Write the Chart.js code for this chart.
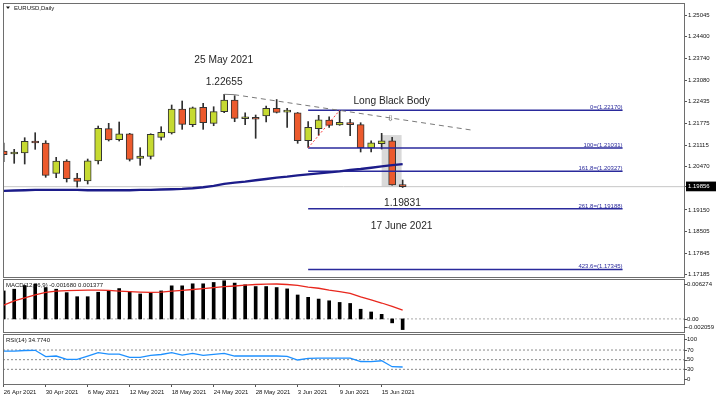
<!DOCTYPE html>
<html><head><meta charset="utf-8">
<script src="https://cdn.jsdelivr.net/npm/chart.js@4.4.0/dist/chart.umd.min.js"></script>
<style>
html,body{margin:0;padding:0;background:#fff;}
#wrap{position:relative;width:716px;height:397px;overflow:hidden;background:#fff;}
#wrap canvas{position:absolute;left:0;top:0;}
</style></head><body>
<div id="wrap">
<canvas id="main" width="716" height="397"></canvas>
<canvas id="macd" width="716" height="397"></canvas>
<canvas id="rsi" width="716" height="397"></canvas>
</div>
<script>
// ---------- data ----------
const dates = ['26 Apr 2021','27 Apr 2021','28 Apr 2021','29 Apr 2021','30 Apr 2021','3 May 2021','4 May 2021','5 May 2021','6 May 2021','7 May 2021','10 May 2021','11 May 2021','12 May 2021','13 May 2021','14 May 2021','17 May 2021','18 May 2021','19 May 2021','20 May 2021','21 May 2021','24 May 2021','25 May 2021','26 May 2021','27 May 2021','28 May 2021','31 May 2021','1 Jun 2021','2 Jun 2021','3 Jun 2021','4 Jun 2021','7 Jun 2021','8 Jun 2021','9 Jun 2021','10 Jun 2021','11 Jun 2021','14 Jun 2021','15 Jun 2021','16 Jun 2021','17 Jun 2021'];
const openP  = [1.20937,1.20846,1.20876,1.21240,1.21179,1.20261,1.20634,1.20119,1.20028,1.20634,1.21613,1.21279,1.21461,1.20716,1.20776,1.21352,1.21482,1.22210,1.21734,1.22261,1.21776,1.22128,1.22482,1.21915,1.21907,1.21997,1.22231,1.22115,1.22097,1.21249,1.21613,1.21876,1.21725,1.21785,1.21734,1.21028,1.21158,1.21249,1.19916];
const highP  = [1.21179,1.20988,1.21340,1.21491,1.21249,1.20746,1.20673,1.20261,1.20694,1.21694,1.21776,1.21816,1.21473,1.21037,1.21460,1.21673,1.22331,1.22452,1.22270,1.22382,1.22279,1.22655,1.22613,1.22097,1.22028,1.22300,1.22497,1.22231,1.22105,1.21825,1.22019,1.21976,1.22170,1.21897,1.21794,1.21249,1.21473,1.21352,1.20058];
const lowP   = [1.20613,1.20564,1.20543,1.20988,1.20140,1.20128,1.19997,1.19846,1.19937,1.20543,1.21240,1.21240,1.20634,1.20503,1.20694,1.21270,1.21452,1.21594,1.21673,1.21594,1.21703,1.22097,1.21825,1.21734,1.21322,1.21816,1.22088,1.21655,1.21170,1.21049,1.21413,1.21655,1.21715,1.21400,1.20907,1.20907,1.20997,1.19900,1.19831];
const closeP = [1.20825,1.20897,1.21231,1.21179,1.20200,1.20634,1.20097,1.20019,1.20643,1.21625,1.21270,1.21461,1.20685,1.20785,1.21443,1.21503,1.22210,1.21746,1.22249,1.21794,1.22128,1.22482,1.21928,1.21925,1.21900,1.22231,1.22110,1.22125,1.21249,1.21655,1.21885,1.21716,1.21807,1.21734,1.21037,1.21188,1.21249,1.19907,1.19856];
const movingAvg = [1.1973,1.1974,1.1975,1.1976,1.1976,1.1976,1.1976,1.1976,1.1975,1.1975,1.1975,1.1975,1.1975,1.1976,1.1976,1.1977,1.1978,1.1979,1.1981,1.1984,1.1988,1.1994,1.1998,1.2001,1.2005,1.2009,1.2013,1.2016,1.2020,1.2023,1.2026,1.2029,1.2032,1.2036,1.2039,1.2043,1.2047,1.2051,1.2054];
const macdHist = [0.00440,0.00467,0.00525,0.00547,0.00493,0.00467,0.00413,0.00349,0.00349,0.00419,0.00440,0.00477,0.00429,0.00392,0.00413,0.00440,0.00520,0.00520,0.00552,0.00552,0.00573,0.00600,0.00563,0.00536,0.00509,0.00509,0.00493,0.00472,0.00376,0.00339,0.00312,0.00285,0.00259,0.00243,0.00152,0.00109,0.00072,-0.00062,-0.00168];
const macdSignal = [0.00218,0.00282,0.00330,0.00378,0.00418,0.00438,0.00446,0.00450,0.00453,0.00454,0.00450,0.00438,0.00429,0.00421,0.00416,0.00422,0.00437,0.00450,0.00462,0.00477,0.00493,0.00506,0.00517,0.00530,0.00541,0.00547,0.00549,0.00541,0.00526,0.00501,0.00482,0.00454,0.00430,0.00402,0.00346,0.00298,0.00250,0.00197,0.00138];
const rsiValues = [67.9,67.9,69.0,69.4,56.5,57.6,50.7,50.7,57.6,64.4,61.7,61.7,54.9,54.9,59.0,60.7,64.4,59.6,63.1,59.0,61.1,63.1,57.6,57.6,57.6,57.6,57.6,57.0,49.3,52.8,53.4,53.4,53.4,53.4,46.2,45.8,47.8,35.4,34.8];

const priceTicks = [1.25045,1.24400,1.23740,1.23080,1.22435,1.21775,1.21115,1.20470,1.19856,1.19150,1.18505,1.17845,1.17185];
const bidPrice = 1.19856;
const xTickIndex = [0,4,8,12,16,20,24,28,32,36];
const fibNames  = ['0','100','161.8','261.8','423.6'];
const fibValues = [1.22170,1.21031,1.20327,1.19188,1.17345];
const fibRange = [29, 58.95];
const fibSwing = [{x:29,y:1.21031},{x:32,y:1.22170}];
const trendLine = [{x:21,y:1.22655},{x:21.95,y:1.22645},{x:44.6,y:1.21570}];
const highlightBox = {x0:36.0, x1:37.9, y0:1.19855, y1:1.21420};
const noteTexts = ['25 May 2021','1.22655','Long Black Body','1.19831','17 June 2021'];
const noteAnchors = [{x:20.96,y:1.23685},{x:21.0,y:1.23037},{x:36.95,y:1.22452},{x:37.98,y:1.19361},{x:37.9,y:1.18664}];
const arrowMark = {x:36.84, y:1.21907, text:'\u21E9'};
const macdTicks = [0.006274, 0, -0.002059];
const macdTickLabels = ['0.006274','0.00','-0.002059'];
const rsiLevels = [70,50,30];
const rsiTicks = [100,70,50,30,0];
const titleText = 'EURUSD,Daily';
const macdTitle = 'MACD(12,26,9) -0.001680 0.001377';
const rsiTitle = 'RSI(14) 34.7740';

// ---------- styles ----------
const X_MIN = -0.067, X_MAX = 64.8;
const FONT = "'Liberation Sans', Arial, sans-serif";
const UP = '#c6da31', DOWN = '#ec5a2d';
Chart.defaults.font.family = FONT;
Chart.defaults.font.size = 6;
Chart.defaults.color = '#141414';
const idx = dates.map((d,i)=>i);

function xAxis(show){
  return {type:'linear', min:X_MIN, max:X_MAX, offset:false, display:show,
    grid:{display:show, drawOnChartArea:false, tickLength:3, color:'#555', offset:false},
    border:{display:false},
    afterBuildTicks(s){ s.ticks = xTickIndex.map(v=>({value:v})); },
    ticks:{display:show, autoSkip:false, maxRotation:0, minRotation:0, align:'start', padding:1.5,
      callback:(v)=>dates[v] !== undefined ? dates[v] : ''},
    afterFit(s){ s.paddingLeft=0; s.paddingRight=0; if(show) s.height=13; }
  };
}
function sideAxis(min,max,extra){
  return Object.assign({type:'linear', position:'right', min, max,
    grid:{display:false}, border:{display:false}, ticks:{display:false},
    afterFit(s){ s.width=32; s.paddingTop=0; s.paddingBottom=0; }}, extra||{});
}
const framePlugin = {id:'frame', afterDraw(c){
  const a=c.chartArea, g=c.ctx; g.save(); g.strokeStyle='#6e6e6e'; g.lineWidth=1;
  g.strokeRect(a.left+0.5,a.top+0.5,a.right-a.left,a.bottom-a.top); g.restore(); }};
function sideLabels(values,labels,title){
  return {id:'side', afterDraw(c){
    const a=c.chartArea, g=c.ctx, ys=c.scales.y;
    g.save(); g.font='6px '+FONT; g.fillStyle='#141414'; g.strokeStyle='#555'; g.lineWidth=1;
    g.textBaseline='middle'; g.textAlign='left';
    values.forEach((v,k)=>{
      let py = ys.getPixelForValue(v);
      py = Math.min(Math.max(py, a.top+5), a.bottom-5);
      g.beginPath(); g.moveTo(a.right, Math.round(py)+0.5); g.lineTo(a.right+3, Math.round(py)+0.5); g.stroke();
      g.fillText(labels[k], a.right+3, py);
    });
    g.fillText(title, a.left+3, a.top+6);
    g.restore(); }};
}
const lineBase = {type:'line', pointRadius:0, borderWidth:1, fill:false, tension:0};

// ---------- main price chart ----------
const fibDatasets = fibValues.map(v=>Object.assign({}, lineBase, {
  data:[{x:fibRange[0],y:v},{x:fibRange[1],y:v}], borderColor:'#2a2a9c', borderWidth:1.5, order:2}));

const mainDecor = {id:'decor',
  beforeDatasetsDraw(c){
    const g=c.ctx, xs=c.scales.x, ys=c.scales.y;
    const l=xs.getPixelForValue(highlightBox.x0), r=xs.getPixelForValue(highlightBox.x1);
    const t=ys.getPixelForValue(highlightBox.y1), b=ys.getPixelForValue(highlightBox.y0);
    g.save(); g.fillStyle='#d9d9d9'; g.fillRect(l,t,r-l,b-t); g.restore();
  },
  afterDatasetsDraw(c){
    const g=c.ctx, xs=c.scales.x, ys=c.scales.y, a=c.chartArea;
    g.save();
    g.font='10.2px '+FONT; g.fillStyle='#262626'; g.textAlign='center'; g.textBaseline='middle';
    noteTexts.forEach((t,k)=> g.fillText(t, xs.getPixelForValue(noteAnchors[k].x), ys.getPixelForValue(noteAnchors[k].y)));
    g.font='8px DejaVu Sans'; g.fillStyle='#555';
    g.fillText(arrowMark.text, xs.getPixelForValue(arrowMark.x), ys.getPixelForValue(arrowMark.y));
    g.font='6px '+FONT; g.fillStyle='#2a2a9c'; g.textAlign='right'; g.textBaseline='alphabetic';
    fibValues.forEach((v,k)=> g.fillText(fibNames[k]+'=('+v.toFixed(5)+')', xs.getPixelForValue(fibRange[1]), ys.getPixelForValue(v)-1.2));
    // title
    g.fillStyle='#141414'; g.textAlign='left'; g.textBaseline='middle';
    g.fillText(titleText, a.left+11, a.top+5);
    g.beginPath(); g.moveTo(a.left+3,a.top+3.5); g.lineTo(a.left+7,a.top+3.5); g.lineTo(a.left+5,a.top+6); g.closePath(); g.fill();
    g.restore();
  }};

new Chart(document.getElementById('main'), {
  type:'bar',
  data:{datasets:[
    Object.assign({}, lineBase, {data:[{x:X_MIN,y:bidPrice},{x:X_MAX,y:bidPrice}], borderColor:'#c6c6c6', order:20}),
    {type:'bar', data: idx.map(i=>({x:i,y:[lowP[i],highP[i]]})), backgroundColor:'#2e2e2e', barThickness:1, grouped:false, order:12},
    {type:'bar', data: idx.map(i=>({x:i,y:[openP[i],closeP[i]]})), backgroundColor: idx.map(i=>closeP[i]>=openP[i]?UP:DOWN),
      borderColor:'#333', borderWidth:1, borderSkipped:false, barThickness:7, minBarLength:2, grouped:false, order:11},
    Object.assign({}, lineBase, {data: idx.map(i=>({x:i,y:movingAvg[i]})), borderColor:'#1c1c8a', borderWidth:2.4, order:1}),
    ...fibDatasets,
    Object.assign({}, lineBase, {data: fibSwing, borderColor:'#ff3b3b', borderDash:[2,2], order:1}),
    Object.assign({}, lineBase, {data: trendLine, borderColor:'#7a7a7a',
      segment:{borderDash: ctx => ctx.p0DataIndex===0 ? [] : [5,4]}, order:1})
  ]},
  options:{responsive:false, animation:false, events:[],
    layout:{padding:{left:3, top:3, right:0, bottom:120}},
    plugins:{legend:{display:false}, tooltip:{enabled:false}},
    scales:{
      x: xAxis(false),
      y: {type:'linear', position:'right', min:1.17119, max:1.25422,
        grid:{display:true, drawOnChartArea:false, tickLength:3, color:'#555'},
        border:{display:false},
        afterBuildTicks(s){ s.ticks = priceTicks.map(v=>({value:v})); },
        ticks:{autoSkip:false, padding:1, callback:v=>Number(v).toFixed(5),
          color: ctx => (ctx.tick && ctx.tick.value===bidPrice) ? '#ffffff' : '#141414',
          showLabelBackdrop: ctx => !!(ctx.tick && ctx.tick.value===bidPrice),
          backdropColor:'#000000', backdropPadding:{left:2,right:8,top:1.5,bottom:1}},
        afterFit(s){ s.width=32; s.paddingTop=0; s.paddingBottom=0; }
      }
    }},
  plugins:[mainDecor, framePlugin]
});

// ---------- MACD ----------
new Chart(document.getElementById('macd'), {
  type:'bar',
  data:{datasets:[
    Object.assign({}, lineBase, {data:[{x:X_MIN,y:0},{x:X_MAX,y:0}], borderColor:'#a8a8a8', borderDash:[2,2], order:20}),
    {type:'bar', data: idx.map(i=>({x:i,y:macdHist[i]})), backgroundColor:'#000', barThickness:3, grouped:false, order:10},
    Object.assign({}, lineBase, {data: idx.map(i=>({x:i,y:macdSignal[i]})), borderColor:'#e8271d', borderWidth:1.3, order:1})
  ]},
  options:{responsive:false, animation:false, events:[],
    layout:{padding:{left:3, top:279, right:0, bottom:65}},
    plugins:{legend:{display:false}, tooltip:{enabled:false}},
    scales:{ x: xAxis(false), y: sideAxis(-0.002059, 0.006274) }},
  plugins:[framePlugin, sideLabels(macdTicks, macdTickLabels, macdTitle)]
});

// ---------- RSI ----------
new Chart(document.getElementById('rsi'), {
  type:'line',
  data:{datasets:[
    ...rsiLevels.map(v=>Object.assign({}, lineBase, {data:[{x:X_MIN,y:v},{x:X_MAX,y:v}], borderColor:'#8a8a8a', borderDash:[2,2], order:20})),
    Object.assign({}, lineBase, {data: idx.map(i=>({x:i,y:rsiValues[i]})), borderColor:'#1e90ff', borderWidth:1.3, order:1})
  ]},
  options:{responsive:false, animation:false, events:[],
    layout:{padding:{left:3, top:334, right:0, bottom:0}},
    plugins:{legend:{display:false}, tooltip:{enabled:false}},
    scales:{ x: xAxis(true), y: sideAxis(-0.4, 103.2) }},
  plugins:[framePlugin, sideLabels(rsiTicks, rsiTicks.map(String), rsiTitle)]
});
</script>
</body></html>
